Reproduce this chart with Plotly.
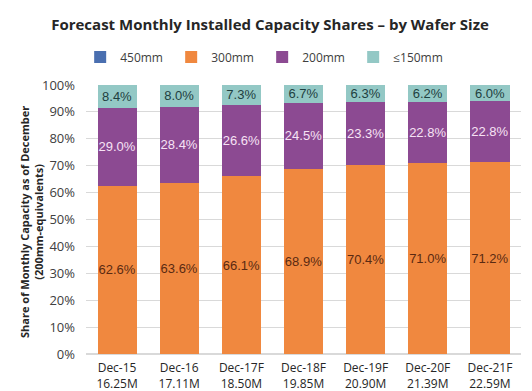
import plotly.graph_objects as go

categories = ["Dec-15<br>16.25M", "Dec-16<br>17.11M", "Dec-17F<br>18.50M", "Dec-18F<br>19.85M",
              "Dec-19F<br>20.90M", "Dec-20F<br>21.39M", "Dec-21F<br>22.59M"]
s450 = [0, 0, 0, 0, 0, 0, 0]
s300 = [62.6, 63.6, 66.1, 68.9, 70.4, 71.0, 71.2]
s200 = [29.0, 28.4, 26.6, 24.5, 23.3, 22.8, 22.8]
s150 = [8.4, 8.0, 7.3, 6.7, 6.3, 6.2, 6.0]
y_ticks = [0, 10, 20, 30, 40, 50, 60, 70, 80, 90, 100]
y_tick_labels = ["0%", "10%", "20%", "30%", "40%", "50%", "60%", "70%", "80%", "90%", "100%"]

label_font = "Liberation Sans, Arial, sans-serif"
axis_font = "Open Sans, sans-serif"

fig = go.Figure()
fig.add_bar(name="450mm", x=categories, y=s450, marker_color="#4A6FB0", texttemplate="",
            hoverinfo="skip")
fig.add_bar(name="300mm", x=categories, y=s300, marker_color="#F0883F",
            texttemplate="%{y:.1f}%", textposition="inside", insidetextanchor="middle",
            textfont=dict(color="#5A2A12", size=13, family=label_font))
fig.add_bar(name="200mm", x=categories, y=s200, marker_color="#8C4A92",
            texttemplate="%{y:.1f}%", textposition="inside", insidetextanchor="middle",
            textfont=dict(color="#F7E2F5", size=13, family=label_font))
fig.add_bar(name="≤150mm", x=categories, y=s150, marker_color="#93C8C5",
            texttemplate="%{y:.1f}%", textposition="inside", insidetextanchor="middle",
            textfont=dict(color="#1E4040", size=13, family=label_font))

fig.update_traces(marker_line_width=0, textangle=0, constraintext="none")

# page body has an 8px default margin, so the figure is drawn 8px smaller
fig.update_layout(
    width=524, height=383,
    barmode="stack", bargap=0.37,
    paper_bgcolor="white", plot_bgcolor="white",
    margin=dict(l=78, r=11, t=77, b=37, autoexpand=False),
    title=dict(text="<b>Forecast Monthly Installed Capacity Shares – by Wafer Size</b>",
               x=0.5, xanchor="center", y=1 - 17 / 383, yanchor="middle",
               font=dict(family=axis_font, size=15, color="#262626")),
    legend=dict(orientation="h", x=0.405, xanchor="center", y=1.104, yanchor="middle",
                traceorder="normal", font=dict(family=axis_font, size=12, color="#404040"),
                itemwidth=30, entrywidth=46, entrywidthmode="pixels"),
    xaxis=dict(tickfont=dict(family=axis_font, size=12, color="#262626"), showgrid=False,
               showline=False, ticks="", automargin=False, ticklabelstandoff=5),
    yaxis=dict(range=[0, 100], tickmode="array", tickvals=y_ticks, ticktext=y_tick_labels,
               tickfont=dict(family=axis_font, size=13, color="#404040"),
               gridcolor="#D9D9D9", gridwidth=1, zeroline=True, zerolinecolor="#D9D9D9",
               ticklabelstandoff=10, automargin=False),
    annotations=[dict(text="<b>Share of Monthly Capacity as of December<br>(200mm-equivalents)</b>",
                      xref="paper", yref="paper", x=-0.127, y=0.49, xanchor="center",
                      yanchor="middle", textangle=-90, showarrow=False,
                      font=dict(family=axis_font, size=11, color="#262626"))],
)

fig.write_html("out.html")
